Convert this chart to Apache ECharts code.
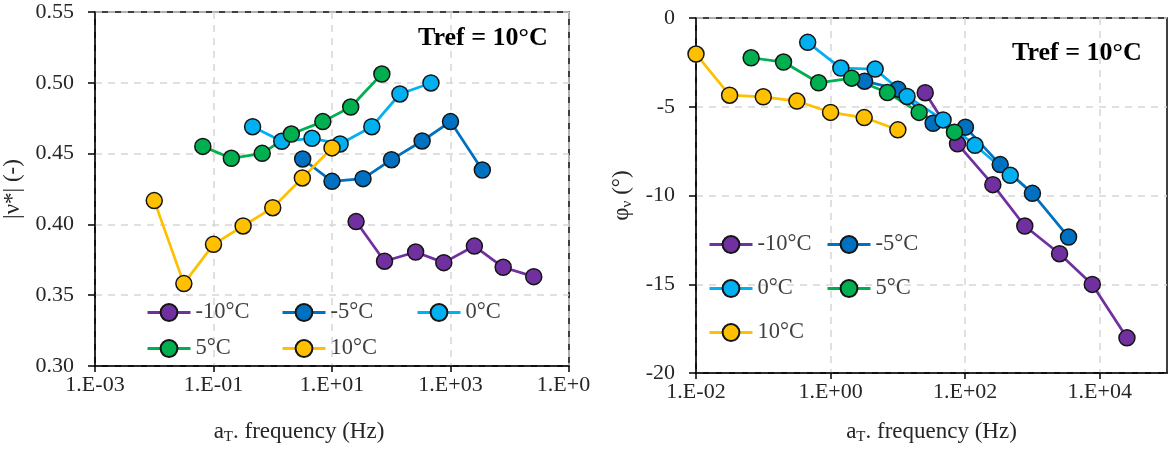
<!DOCTYPE html>
<html>
<head>
<meta charset="utf-8">
<script src="https://cdn.jsdelivr.net/npm/echarts@6/dist/echarts.min.js"></script>
<style>
  html, body { margin: 0; padding: 0; background: #fff; }
  #wrap { position: relative; width: 1170px; height: 450px; overflow: hidden; }
  #left { position: absolute; left: 0; top: 0; width: 591px; height: 450px; }
  #right { position: absolute; left: 591px; top: 0; width: 579px; height: 450px; }
</style>
</head>
<body>
<div id="wrap"><div id="left"></div><div id="right"></div></div>
<script>
// ---- Data ----
const seriesNames = ['-10°C', '-5°C', '0°C', '5°C', '10°C'];
const seriesColors = ['#7030A0', '#0070C0', '#00B0F0', '#00B050', '#FFC000'];

// reduced frequency aT·f (Hz) for each temperature
const freqM10 = [25.5, 77, 258, 770, 2530, 7750, 25400];
const freqM5  = [3.2, 10, 33.4, 101, 332, 1000, 3444];
const freq0   = [0.457, 1.42, 4.6, 13.7, 47, 140, 468];
const freq5   = [0.066, 0.2, 0.664, 2.06, 7.0, 20.7, 69.4];
const freq10  = [0.01, 0.0316, 0.1, 0.316, 1, 3.16, 10];

// |v*| (-)
const absM10 = [0.402, 0.374, 0.3805, 0.373, 0.3847, 0.3697, 0.3631];
const absM5  = [0.4462, 0.4304, 0.4323, 0.4457, 0.4589, 0.4726, 0.4384];
const abs0   = [0.469, 0.4587, 0.4608, 0.4568, 0.469, 0.4921, 0.4999];
const abs5   = [0.4551, 0.4467, 0.4502, 0.4638, 0.4726, 0.4829, 0.5062];
const abs10  = [0.4168, 0.3582, 0.3859, 0.3989, 0.4118, 0.4328, 0.454];

// phase angle phi_v (deg)
const phiM10 = [-4.21, -7.09, -9.39, -11.72, -13.28, -15.01, -18.02];
const phiM5  = [-3.56, -4.01, -5.93, -6.15, -8.26, -9.88, -12.34];
const phi0   = [-1.37, -2.82, -2.88, -4.42, -5.74, -7.17, -8.86];
const phi5   = [-2.24, -2.48, -3.65, -3.39, -4.20, -5.32, -6.43];
const phi10  = [-2.03, -4.35, -4.44, -4.68, -5.32, -5.61, -6.30];

// axis ticks
const leftXTicks = [0.001, 0.1, 10, 1000, 100000];
const rightXTicks = [0.01, 1, 100, 10000];
const titleText = 'Tref = 10°C';

// ---- Chart building ----
const FONT = 'Liberation Serif';
const freqs = [freqM10, freqM5, freq0, freq5, freq10];
const absVals = [absM10, absM5, abs0, abs5, abs10];
const phiVals = [phiM10, phiM5, phi0, phi5, phi10];

function expLabel(v) {
  const e = Math.round(Math.log10(v));
  return '1.E' + (e < 0 ? '-' : '+') + String(Math.abs(e)).padStart(2, '0');
}

function makeSeries(yVals) {
  return seriesNames.map((name, k) => ({
    name: name,
    type: 'line',
    symbol: 'circle',
    symbolSize: 16,
    lineStyle: { color: seriesColors[k], width: 2.75 },
    itemStyle: { color: seriesColors[k], borderColor: '#151515', borderWidth: 1.5 },
    emphasis: { disabled: true },
    data: freqs[k].map((f, i) => [f, yVals[k][i]])
  }));
}

function makeLegends(positions) {
  return positions.map(p => ({
    data: [p.name],
    left: p.left,
    top: p.top,
    padding: 0,
    itemWidth: 43,
    itemHeight: 21,
    itemGap: 0,
    selectedMode: false,
    lineStyle: { width: 3 },
    textStyle: { fontFamily: FONT, fontSize: 22.5, color: '#404040' }
  }));
}

const gridLine = { show: true, lineStyle: { color: '#d6d6d6', width: 1.5, type: [7, 6] } };
const axisLineStyle = { show: true, onZero: false, lineStyle: { color: '#000', width: 1.5 } };
const nameSub = {
  n: { fontFamily: FONT, fontSize: 23, color: '#262626' },
  s: { fontFamily: FONT, fontSize: 15, color: '#262626', padding: [11, 0, 0, 0] }
};

function xAxisCfg(min, max, ticks, nameGap, namePad) {
  return {
    type: 'log', logBase: 10, min: min, max: max,
    axisLine: axisLineStyle,
    axisTick: { show: true, inside: false, length: 6, customValues: ticks, lineStyle: { color: '#000', width: 1.5 } },
    axisLabel: { customValues: ticks, formatter: expLabel, fontFamily: FONT, fontSize: 22, color: '#262626', margin: 8, hideOverlap: false },
    splitLine: gridLine,
    name: '{n|a}{s|T}{n|. frequency (Hz)}',
    nameLocation: 'middle',
    nameGap: nameGap,
    nameTextStyle: { rich: nameSub, padding: namePad }
  };
}

const leftChart = echarts.init(document.getElementById('left'), null, { renderer: 'canvas' });
leftChart.setOption({
  animation: false,
  title: { text: titleText, left: 418, top: 25, padding: 0,
    textStyle: { fontFamily: FONT, fontSize: 26, fontWeight: 'bold', color: '#000' } },
  grid: { left: 95, top: 12, width: 474, height: 354, show: true, borderColor: '#000', borderWidth: 1.5,
    containLabel: false, outerBoundsMode: 'none' },
  xAxis: xAxisCfg(0.001, 100000, leftXTicks, 53, [0, 66, 0, 0]),
  yAxis: {
    type: 'value', min: 0.30, max: 0.55, interval: 0.05,
    axisLine: axisLineStyle,
    axisTick: { show: true, inside: false, length: 7, lineStyle: { color: '#000', width: 1.5 } },
    axisLabel: { formatter: v => v.toFixed(2), fontFamily: FONT, fontSize: 22, color: '#262626', margin: 21 },
    splitLine: gridLine,
    name: '|ν*| (-)', nameLocation: 'middle', nameGap: 62,
    nameTextStyle: { fontFamily: FONT, fontSize: 23, color: '#262626' }
  },
  legend: makeLegends([
    { name: '-10°C', left: 146, top: 301 },
    { name: '-5°C', left: 281, top: 301 },
    { name: '0°C', left: 416, top: 301 },
    { name: '5°C', left: 146, top: 337 },
    { name: '10°C', left: 281, top: 337 }
  ]),
  series: makeSeries(absVals)
});

const rightChart = echarts.init(document.getElementById('right'), null, { renderer: 'canvas' });
rightChart.setOption({
  animation: false,
  title: { text: titleText, left: 421, top: 40, padding: 0,
    textStyle: { fontFamily: FONT, fontSize: 26, fontWeight: 'bold', color: '#000' } },
  grid: { left: 105, top: 18, width: 471, height: 355, show: true, borderColor: '#000', borderWidth: 1.5,
    containLabel: false, outerBoundsMode: 'none' },
  xAxis: xAxisCfg(0.01, 100000, rightXTicks, 46, [0, 0, 0, 0]),
  yAxis: {
    type: 'value', min: -20, max: 0, interval: 5,
    axisLine: axisLineStyle,
    axisTick: { show: true, inside: false, length: 7, lineStyle: { color: '#000', width: 1.5 } },
    axisLabel: { fontFamily: FONT, fontSize: 22, color: '#262626', margin: 21 },
    splitLine: gridLine,
    name: '{n|φ}{s|ν}{n| (°)}', nameLocation: 'middle', nameGap: 56,
    nameTextStyle: { rich: nameSub }
  },
  legend: makeLegends([
    { name: '-10°C', left: 117, top: 233 },
    { name: '-5°C', left: 235, top: 233 },
    { name: '0°C', left: 117, top: 277 },
    { name: '5°C', left: 235, top: 277 },
    { name: '10°C', left: 117, top: 321 }
  ]),
  series: makeSeries(phiVals)
});
</script>
</body>
</html>
